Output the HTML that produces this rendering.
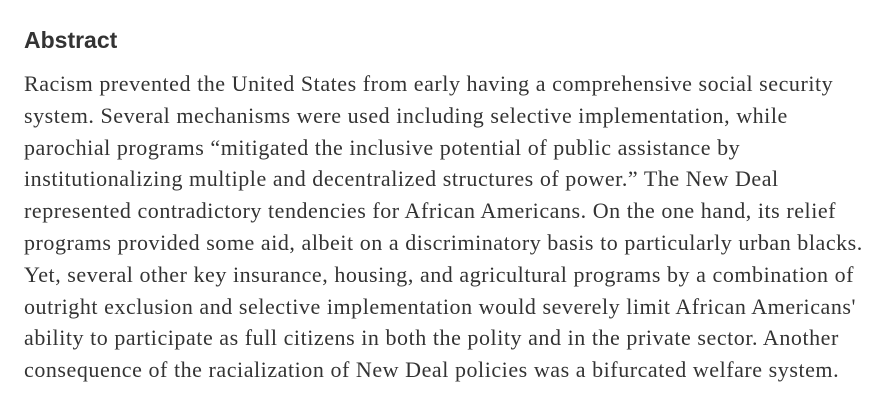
<!DOCTYPE html>
<html><head><meta charset="utf-8"><style>
html,body{margin:0;padding:0;background:#fff;width:892px;height:412px;overflow:hidden}
h2{position:absolute;left:24px;top:24px;margin:0;font:bold 23px/32px "Liberation Sans",sans-serif;color:#333}
.body{position:absolute;left:24px;top:68px;margin:0;font:22px/31.8px "Liberation Serif",serif;letter-spacing:0.55px;color:#333;white-space:nowrap}
.body span{display:block}
</style></head><body>
<h2>Abstract</h2>
<div class="body">
<span>Racism prevented the United States from early having a comprehensive social security</span>
<span>system. Several mechanisms were used including selective implementation, while</span>
<span>parochial programs “mitigated the inclusive potential of public assistance by</span>
<span>institutionalizing multiple and decentralized structures of power.” The New Deal</span>
<span>represented contradictory tendencies for African Americans. On the one hand, its relief</span>
<span>programs provided some aid, albeit on a discriminatory basis to particularly urban blacks.</span>
<span>Yet, several other key insurance, housing, and agricultural programs by a combination of</span>
<span>outright exclusion and selective implementation would severely limit African Americans'</span>
<span>ability to participate as full citizens in both the polity and in the private sector. Another</span>
<span>consequence of the racialization of New Deal policies was a bifurcated welfare system.</span>
</div>
</body></html>
